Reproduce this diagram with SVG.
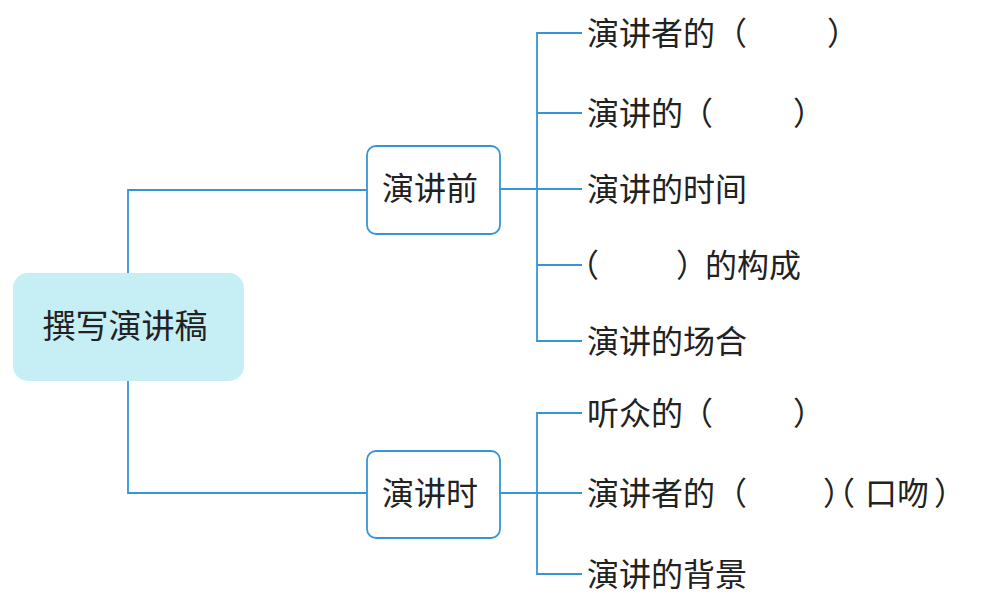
<svg xmlns="http://www.w3.org/2000/svg" width="1003" height="600" viewBox="0 0 1003 600">
<style>
.t{font-family:"Noto Sans CJK SC","Noto Sans",sans-serif;fill:#222;}
.leaf{font-size:32px;}
.line{fill:none;stroke:#3595d6;stroke-width:1.8;}
.box{fill:#fff;stroke:#3595d6;stroke-width:1.8;}
</style>
<rect width="1003" height="600" fill="#fff"/>
<g id="connectors">
<polyline class="line" points="128,273 128,190 368,190"/>
<polyline class="line" points="128,381 128,493 368,493"/>
<line class="line" x1="500" y1="189" x2="582" y2="189"/>
<polyline class="line" points="582,33 537,33 537,341 582,341"/>
<line class="line" x1="537" y1="113" x2="582" y2="113"/>
<line class="line" x1="537" y1="265" x2="582" y2="265"/>
<line class="line" x1="500" y1="493" x2="582" y2="493"/>
<polyline class="line" points="582,413 537,413 537,574 582,574"/>
</g>
<g id="root">
<rect x="13" y="273" width="231" height="108" rx="15" fill="#c6eef5"/>
<text class="t" x="125" y="338" font-size="33" text-anchor="middle">撰写演讲稿</text>
</g>
<g id="before">
<rect class="box" x="367" y="146" width="133" height="88" rx="9"/>
<text class="t" x="430" y="200" font-size="32" text-anchor="middle">演讲前</text>
</g>
<g id="during">
<rect class="box" x="367" y="451" width="133" height="87" rx="9"/>
<text class="t" x="430" y="505" font-size="32" text-anchor="middle">演讲时</text>
</g>
<g id="leaf1"><text class="t leaf" x="587" y="45">演讲者的（<tspan x="827">）</tspan></text></g>
<g id="leaf2"><text class="t leaf" x="587" y="125">演讲的<tspan x="681">（</tspan><tspan x="793">）</tspan></text></g>
<g id="leaf3"><text class="t leaf" x="587" y="201">演讲的时间</text></g>
<g id="leaf4"><text class="t leaf" x="567" y="277">（<tspan x="676">）</tspan><tspan x="705">的构成</tspan></text></g>
<g id="leaf5"><text class="t leaf" x="587" y="353">演讲的场合</text></g>
<g id="leaf6"><text class="t leaf" x="587" y="425">听众的<tspan x="681">（</tspan><tspan x="793">）</tspan></text></g>
<g id="leaf7"><text class="t leaf" x="587" y="505">演讲者的（<tspan x="823">）</tspan><tspan x="823">（</tspan><tspan x="865">口吻</tspan><tspan x="934">）</tspan></text></g>
<g id="leaf8"><text class="t leaf" x="587" y="586">演讲的背景</text></g>
</svg>
